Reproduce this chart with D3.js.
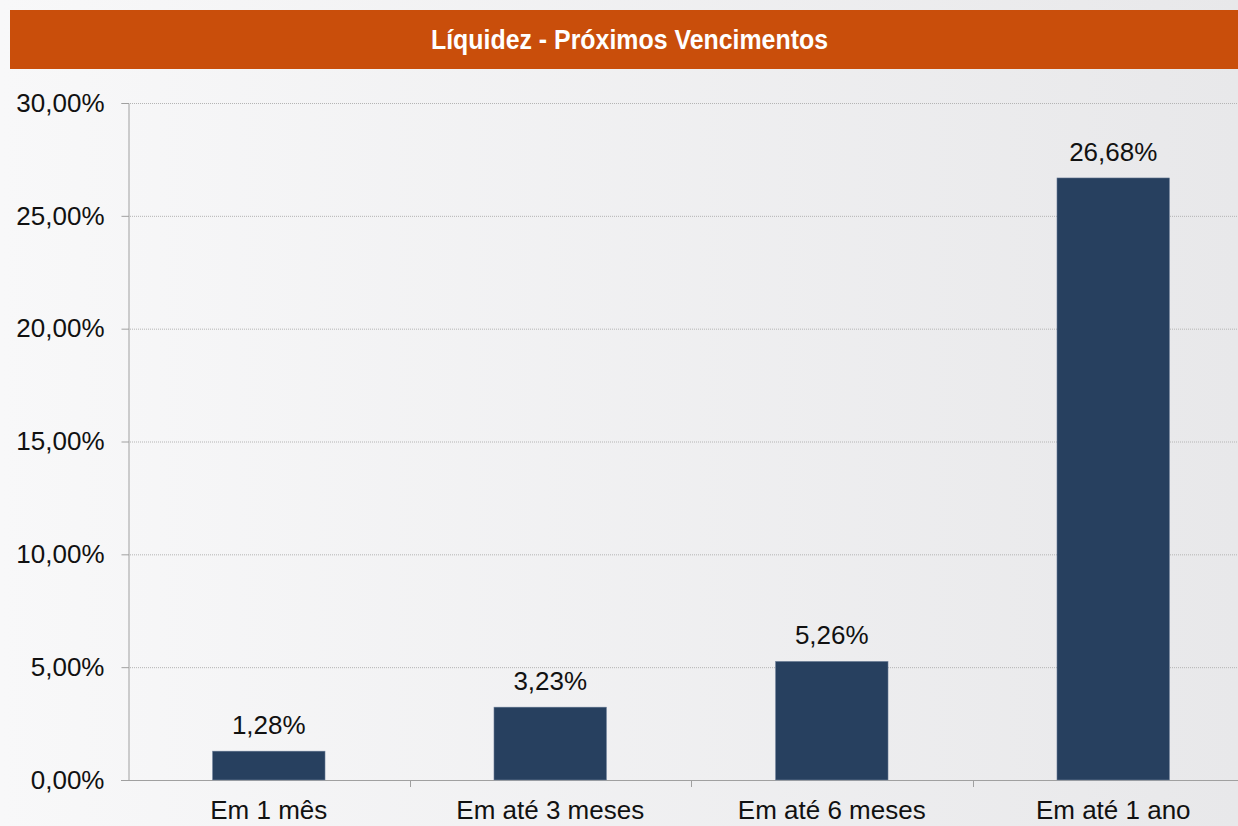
<!DOCTYPE html>
<html>
<head>
<meta charset="utf-8">
<style>
  body { margin: 0; background: #fff; }
  svg { display: block; font-family: "Liberation Sans", Arial, sans-serif; }
</style>
</head>
<body>
<div id="chart"></div>
<script src="https://cdn.jsdelivr.net/npm/d3@7/dist/d3.min.js"></script>
<script>
// the data
var title = "Líquidez - Próximos Vencimentos";
var categories = ["Em 1 mês", "Em até 3 meses", "Em até 6 meses", "Em até 1 ano"];
var values = [1.28, 3.23, 5.26, 26.68];
var yTicks = [0, 5, 10, 15, 20, 25, 30];

var w = 1238, h = 826;
var fmt = function(v) { return d3.format(".2f")(v).replace(".", ",") + "%"; };

var svg = d3.select("#chart").append("svg")
  .attr("width", w)
  .attr("height", h);

// light grey background gradient
var grad = svg.append("defs").append("linearGradient")
  .attr("id", "bg").attr("x1", "0").attr("x2", "1").attr("y1", "0").attr("y2", "0");
grad.append("stop").attr("offset", "0").attr("stop-color", "#f8f8f9");
grad.append("stop").attr("offset", "1").attr("stop-color", "#e8e8ea");
svg.append("rect").attr("width", w).attr("height", h).attr("fill", "url(#bg)");

// title bar
svg.append("rect")
  .attr("x", 10).attr("y", 10)
  .attr("width", w - 10).attr("height", 59)
  .attr("fill", "#c94e0b");
svg.append("text")
  .attr("x", 629.5).attr("y", 49)
  .attr("text-anchor", "middle")
  .attr("fill", "#fff")
  .attr("textLength", 397)
  .attr("lengthAdjust", "spacingAndGlyphs")
  .style("font-weight", "bold")
  .style("font-size", "28px")
  .text(title);

// scales
var x = d3.scaleBand()
  .domain(categories)
  .range([128, 1254])
  .paddingInner(0.6)
  .paddingOuter(0.3);
var y = d3.scaleLinear()
  .domain([0, 30])
  .range([780, 103]);

// gridlines (dotted)
svg.append("g")
  .selectAll("line")
  .data(yTicks.slice(1))
  .enter().append("line")
  .attr("x1", 128).attr("x2", w)
  .attr("y1", function(d) { return y(d) + 0.5; })
  .attr("y2", function(d) { return y(d) + 0.5; })
  .attr("stroke", "#b4b4b4")
  .attr("stroke-width", 1)
  .attr("stroke-dasharray", "1,1");

// y axis
var yAxis = svg.append("g")
  .attr("transform", "translate(128.5,0)")
  .call(d3.axisLeft(y).tickValues(yTicks).tickSize(7).tickPadding(17).tickFormat(fmt));
yAxis.selectAll("path, line").attr("stroke", "#a0a0a0");
yAxis.selectAll("text").style("font-size", "26px").attr("fill", "#111");

// x axis with ticks at category boundaries
var step = x.step();
var xg = svg.append("g");
xg.append("line")
  .attr("x1", 121).attr("x2", w)
  .attr("y1", 780.5).attr("y2", 780.5)
  .attr("stroke", "#a0a0a0");
xg.selectAll("line.b")
  .data(categories)
  .enter().append("line")
  .attr("class", "b")
  .attr("x1", function(d) { return Math.round(x(d) - step * 0.3 + step) + 0.5; })
  .attr("x2", function(d) { return Math.round(x(d) - step * 0.3 + step) + 0.5; })
  .attr("y1", 780).attr("y2", 787)
  .attr("stroke", "#a0a0a0");
xg.selectAll("text")
  .data(categories)
  .enter().append("text")
  .attr("x", function(d) { return x(d) + x.bandwidth() / 2; })
  .attr("y", 819)
  .attr("text-anchor", "middle")
  .attr("fill", "#111")
  .style("font-size", "26px")
  .text(function(d) { return d; });

// bars
svg.selectAll("rect.bar")
  .data(values)
  .enter().append("rect")
  .attr("class", "bar")
  .attr("x", function(d, i) { return x(categories[i]); })
  .attr("y", function(d) { return y(d); })
  .attr("width", x.bandwidth())
  .attr("height", function(d) { return y(0) - y(d); })
  .attr("fill", "#27405f")
  .attr("stroke", "#8090a8")
  .attr("stroke-width", 0.5);

// value labels
svg.selectAll("text.val")
  .data(values)
  .enter().append("text")
  .attr("class", "val")
  .attr("x", function(d, i) { return x(categories[i]) + x.bandwidth() / 2; })
  .attr("y", function(d) { return y(d) - 17; })
  .attr("text-anchor", "middle")
  .attr("fill", "#111")
  .style("font-size", "26px")
  .text(fmt);
</script>
</body>
</html>
